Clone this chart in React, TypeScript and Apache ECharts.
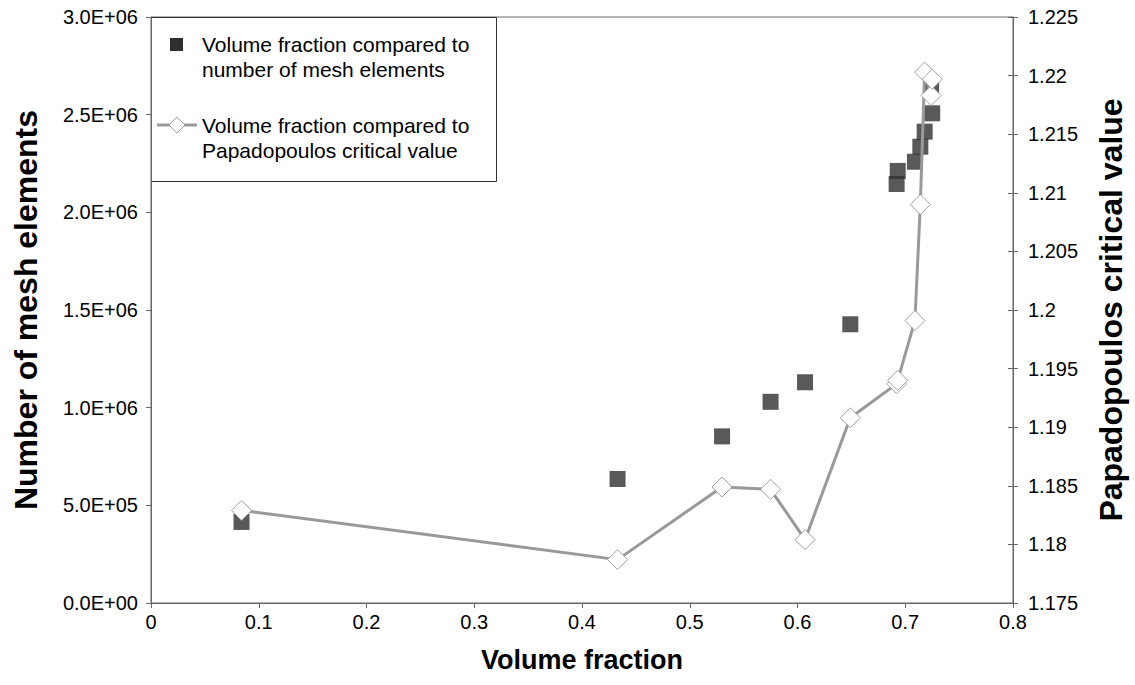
import React, { useEffect, useRef } from "react";
import * as echarts from "echarts";

const volumeFraction = [0.084, 0.433, 0.53, 0.575, 0.607, 0.649, 0.692, 0.693, 0.709, 0.714, 0.718, 0.724, 0.725];
const meshElements = [415000, 635000, 853000, 1030000, 1130000, 1427000, 2145000, 2212000, 2259000, 2336000, 2413000, 2636000, 2507000];
const criticalValue = [1.1829, 1.1787, 1.1849, 1.1847, 1.1804, 1.1908, 1.1937, 1.194, 1.1991, 1.209, 1.2203, 1.2183, 1.2197];

const legendLabels = [
  "Volume fraction compared to\nnumber of mesh elements",
  "Volume fraction compared to\nPapadopoulos critical value",
];
const xTitle = "Volume fraction";
const yLeftTitle = "Number of mesh elements";
const yRightTitle = "Papadopoulos critical value";

const FONT = "'Liberation Sans', Arial, sans-serif";

function sci(v: number): string {
  if (v === 0) return "0.0E+00";
  const e = Math.floor(Math.log10(Math.abs(v)) + 1e-9);
  const m = v / Math.pow(10, e);
  const es = (e < 0 ? "-" : "+") + String(Math.abs(e)).padStart(2, "0");
  return m.toFixed(1) + "E" + es;
}

export default function App() {
  const ref = useRef<HTMLDivElement>(null);
  useEffect(() => {
    document.body.style.margin = "0";
    if (!ref.current) return;
    const chart = echarts.init(ref.current, undefined, { renderer: "svg" });
    const axisColor = "#666666";
    const meshData = volumeFraction.map((x, i) => [x, meshElements[i]]);
    const critData = volumeFraction.map((x, i) => [x, criticalValue[i]]);
    chart.setOption({
      animation: false,
      backgroundColor: "#ffffff",
      grid: {
        left: 151,
        right: 122,
        top: 17,
        bottom: 82,
        show: true,
        borderColor: axisColor,
        borderWidth: 1,
        backgroundColor: "transparent",
      },
      xAxis: {
        type: "value",
        min: 0,
        max: 0.8,
        interval: 0.1,
        name: xTitle,
        nameLocation: "middle",
        nameGap: 43,
        nameTextStyle: { fontFamily: FONT, fontSize: 27, fontWeight: "bold", color: "#000" },
        axisLine: { lineStyle: { color: axisColor, width: 1 } },
        axisTick: { show: true, inside: false, length: 5, lineStyle: { color: axisColor } },
        splitLine: { show: false },
        axisLabel: {
          fontFamily: FONT,
          fontSize: 20,
          color: "#000",
          margin: 9,
          formatter: (v: number) => String(Number(v.toFixed(1))),
        },
      },
      yAxis: [
        {
          type: "value",
          position: "left",
          min: 0,
          max: 3000000,
          interval: 500000,
          name: yLeftTitle,
          nameLocation: "middle",
          nameRotate: 90,
          nameGap: 109,
          nameTextStyle: { fontFamily: FONT, fontSize: 32, fontWeight: "bold", color: "#000" },
          axisLine: { show: true, lineStyle: { color: axisColor, width: 1 } },
          axisTick: { show: true, inside: false, length: 5, lineStyle: { color: axisColor } },
          splitLine: { show: false },
          axisLabel: { fontFamily: FONT, fontSize: 20, color: "#000", margin: 13, formatter: (v: number) => sci(v) },
        },
        {
          type: "value",
          position: "right",
          min: 1.175,
          max: 1.225,
          interval: 0.005,
          name: yRightTitle,
          nameLocation: "middle",
          nameRotate: 90,
          nameGap: 82,
          nameTextStyle: { fontFamily: FONT, fontSize: 32, fontWeight: "bold", color: "#000" },
          axisLine: { show: true, lineStyle: { color: axisColor, width: 1 } },
          axisTick: { show: true, inside: false, length: 5, lineStyle: { color: axisColor } },
          splitLine: { show: false },
          axisLabel: {
            fontFamily: FONT,
            fontSize: 20,
            color: "#000",
            margin: 15,
            formatter: (v: number) => String(Number(v.toFixed(3))),
          },
        },
        {
          type: "value",
          position: "right",
          min: 1.175,
          max: 1.225,
          interval: 0.005,
          axisLine: { show: false },
          axisTick: { show: true, inside: true, length: 5, lineStyle: { color: axisColor } },
          splitLine: { show: false },
          axisLabel: { show: false },
        },
      ],
      series: [
        {
          type: "scatter",
          name: "mesh",
          yAxisIndex: 0,
          symbol: "rect",
          symbolSize: 16,
          itemStyle: { color: "#2f2f2f" },
          data: meshData,
          z: 2,
        },
        {
          type: "line",
          name: "crit",
          yAxisIndex: 1,
          symbol: "diamond",
          symbolSize: 20,
          showSymbol: true,
          lineStyle: { color: "#999999", width: 3 },
          itemStyle: { color: "#ffffff", borderColor: "#a0a0a0", borderWidth: 1 },
          data: critData,
          z: 3,
        },
      ],
      graphic: [
        {
          type: "group",
          z: 100,
          children: [
            {
              type: "rect",
              shape: { x: 151.5, y: 17.5, width: 345, height: 164 },
              style: { fill: "#ffffff", stroke: "#333333", lineWidth: 1 },
            },
            {
              type: "rect",
              shape: { x: 170, y: 38, width: 13, height: 13 },
              style: { fill: "#2f2f2f" },
            },
            {
              type: "line",
              shape: { x1: 157, y1: 125, x2: 197, y2: 125 },
              style: { stroke: "#999999", lineWidth: 3 },
            },
            {
              type: "polygon",
              shape: { points: [[177, 117], [185, 125], [177, 133], [169, 125]] },
              style: { fill: "#ffffff", stroke: "#a0a0a0", lineWidth: 1 },
            },
            {
              type: "text",
              x: 202,
              y: 32,
              style: { text: legendLabels[0], fontFamily: FONT, fontSize: 21, lineHeight: 25, fill: "#000" },
            },
            {
              type: "text",
              x: 202,
              y: 113,
              style: { text: legendLabels[1], fontFamily: FONT, fontSize: 21, lineHeight: 25, fill: "#000" },
            },
          ],
        },
      ],
    });
    return () => chart.dispose();
  }, []);
  return <div ref={ref} style={{ width: 1135, height: 685 }} />;
}
